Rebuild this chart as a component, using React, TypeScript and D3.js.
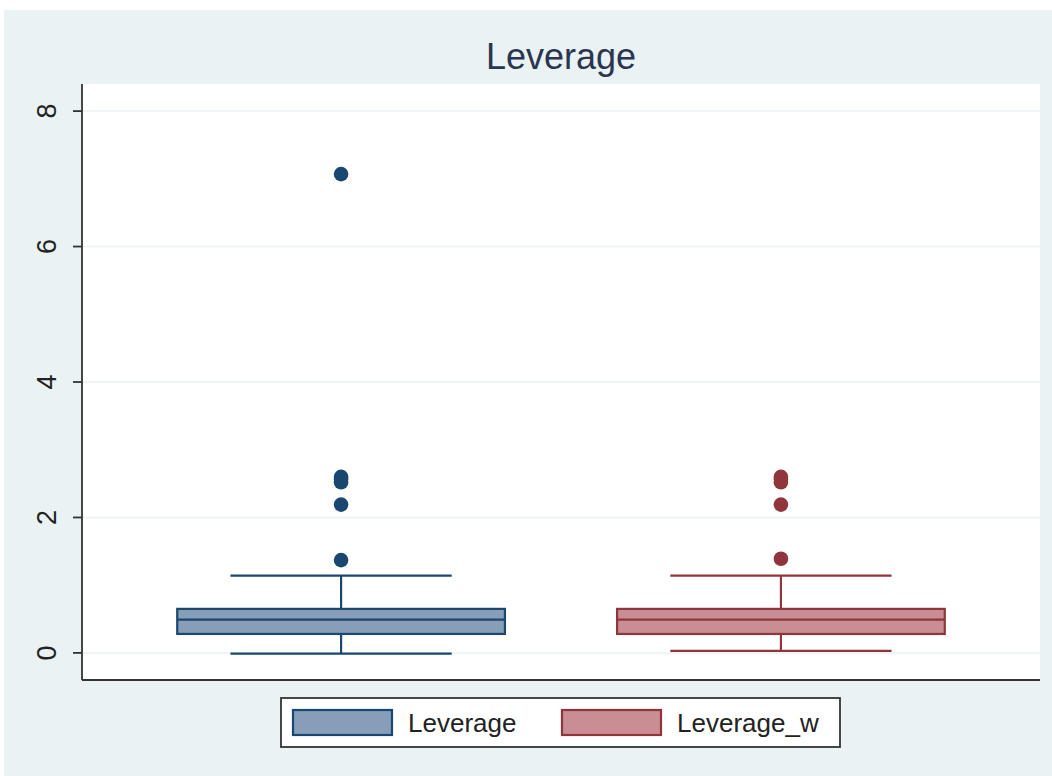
import React from "react";
import * as d3 from "d3";

const categories = ["Leverage", "Leverage_w"];
const q1 = [0.28, 0.28];
const medians = [0.49, 0.49];
const q3 = [0.65, 0.65];
const whiskerLow = [-0.01, 0.03];
const whiskerHigh = [1.14, 1.14];
const outliers = [
  [1.37, 2.19, 2.52, 2.56, 2.6, 7.07],
  [1.39, 2.19, 2.52, 2.56, 2.6],
];
const yTicks = [0, 2, 4, 6, 8];
const title = "Leverage";

const strokeColors = ["#1a476f", "#90353b"];
const fillColors = ["#869eb8", "#c98e93"];

const W = 1052;
const H = 776;
const plot = { left: 82, right: 1040, top: 84, bottom: 680 };
const font = "'Liberation Sans', Arial, sans-serif";
const sw = 2.2;

export default function App() {
  const y = d3.scaleLinear().domain([-0.4, 8.4]).range([plot.bottom, plot.top]);
  const x = d3
    .scalePoint<string>()
    .domain(categories)
    .range([plot.left, plot.right])
    .padding(0.589);
  const step = x.step();
  const boxW = step * 0.745;
  const capW = step * 0.503;

  return (
    <svg
      width={W}
      height={H}
      style={{ position: "absolute", left: 0, top: 0, display: "block" }}
    >
      <rect x={0} y={0} width={W} height={H} fill="#ffffff" />
      <rect x={4} y={10} width={W - 4} height={H - 10} fill="#eaf2f3" />
      <rect
        x={plot.left}
        y={plot.top}
        width={plot.right - plot.left}
        height={plot.bottom - plot.top}
        fill="#ffffff"
      />
      <text
        x={(plot.left + plot.right) / 2}
        y={69}
        textAnchor="middle"
        fontFamily={font}
        fontSize={36}
        fill="#2a3550"
      >
        {title}
      </text>
      {yTicks.map((t) => (
        <line
          key={"g" + t}
          x1={plot.left}
          x2={plot.right}
          y1={y(t)}
          y2={y(t)}
          stroke="#eaf2f3"
          strokeWidth={1.5}
        />
      ))}
      <line
        x1={plot.left}
        x2={plot.left}
        y1={plot.top}
        y2={plot.bottom}
        stroke="#333333"
        strokeWidth={1.8}
      />
      {yTicks.map((t) => (
        <g key={"t" + t}>
          <line
            x1={plot.left - 9}
            x2={plot.left}
            y1={y(t)}
            y2={y(t)}
            stroke="#333333"
            strokeWidth={1.8}
          />
          <text
            transform={`translate(${plot.left - 26},${y(t)}) rotate(-90)`}
            textAnchor="middle"
            fontFamily={font}
            fontSize={27}
            fill="#222222"
          >
            {t}
          </text>
        </g>
      ))}
      <line
        x1={plot.left}
        x2={plot.right}
        y1={plot.bottom}
        y2={plot.bottom}
        stroke="#333333"
        strokeWidth={1.8}
      />
      {categories.map((c, i) => {
        const cx = x(c) as number;
        const sc = strokeColors[i];
        return (
          <g key={c}>
            <line x1={cx} x2={cx} y1={y(whiskerHigh[i])} y2={y(q3[i])} stroke={sc} strokeWidth={sw} />
            <line x1={cx} x2={cx} y1={y(q1[i])} y2={y(whiskerLow[i])} stroke={sc} strokeWidth={sw} />
            <line
              x1={cx - capW / 2}
              x2={cx + capW / 2}
              y1={y(whiskerHigh[i])}
              y2={y(whiskerHigh[i])}
              stroke={sc}
              strokeWidth={sw}
            />
            <line
              x1={cx - capW / 2}
              x2={cx + capW / 2}
              y1={y(whiskerLow[i])}
              y2={y(whiskerLow[i])}
              stroke={sc}
              strokeWidth={sw}
            />
            <rect
              x={cx - boxW / 2}
              y={y(q3[i])}
              width={boxW}
              height={y(q1[i]) - y(q3[i])}
              fill={fillColors[i]}
              stroke={sc}
              strokeWidth={sw}
            />
            <line
              x1={cx - boxW / 2}
              x2={cx + boxW / 2}
              y1={y(medians[i])}
              y2={y(medians[i])}
              stroke={sc}
              strokeWidth={sw}
            />
            {outliers[i].map((v, j) => (
              <circle key={j} cx={cx} cy={y(v)} r={7.3} fill={sc} />
            ))}
          </g>
        );
      })}
      <rect x={281} y={698} width={559} height={49} fill="#ffffff" stroke="#333333" strokeWidth={1.8} />
      {categories.map((c, i) => {
        const sx = [293, 562][i];
        return (
          <g key={"l" + c}>
            <rect
              x={sx}
              y={710}
              width={99}
              height={25}
              fill={fillColors[i]}
              stroke={strokeColors[i]}
              strokeWidth={sw}
            />
            <text x={sx + 115} y={732} fontFamily={font} fontSize={26} fill="#222222">
              {c}
            </text>
          </g>
        );
      })}
    </svg>
  );
}
